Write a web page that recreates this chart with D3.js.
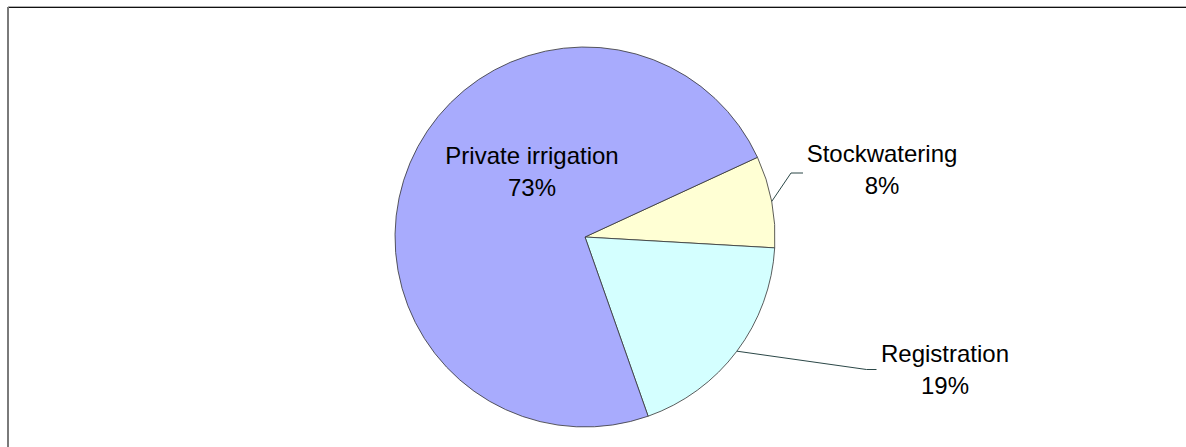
<!DOCTYPE html>
<html>
<head>
<meta charset="utf-8">
<style>
  body { margin: 0; background: #fff; }
  svg { display: block; }
  text { font-family: "Liberation Sans", Arial, sans-serif; font-size: 24px; fill: #000; }
</style>
</head>
<body>
<svg width="1186" height="447"></svg>
<script src="https://d3js.org/d3.v7.min.js"></script>
<script>

    // water use shares (clockwise from the stockwatering edge)
    var categories = ["Stockwatering", "Registration", "Private irrigation"];
    var shares = [7.8, 18.7, 73.5];
    var shareLabels = ["8%", "19%", "73%"];
    var colours = ["#ffffd4", "#d4ffff", "#a8abfd"];

    var svg = d3.select("svg"),
        width = +svg.attr("width"),
        height = +svg.attr("height");

    // frame round the plot area, only top and left edges show
    svg.append("line").attr("x1", 8).attr("y1", 6.5).attr("x2", width).attr("y2", 6.5)
        .attr("stroke", "#b0b0b0").attr("stroke-width", 1);
    svg.append("line").attr("x1", 8).attr("y1", 7.5).attr("x2", width).attr("y2", 7.5)
        .attr("stroke", "#111").attr("stroke-width", 1);
    svg.append("line").attr("x1", 8).attr("y1", 7).attr("x2", 8).attr("y2", height)
        .attr("stroke", "#7a7a7a").attr("stroke-width", 2);

    var cx = 585, cy = 237, radius = 190;
    var g = svg.append("g").attr("transform", "translate(" + cx + "," + cy + ")");

    var rows = categories.map(function (c, i) {
        return {name: c, value: shares[i], label: shareLabels[i], colour: colours[i]};
    });

    var startDeg = 65.2;
    var pie = d3.pie()
        .sort(null)
        .value(function (d) { return d.value; })
        .startAngle(startDeg * Math.PI / 180)
        .endAngle((startDeg + 360) * Math.PI / 180);

    var arc = d3.arc().innerRadius(0).outerRadius(radius);
    var arcs = pie(rows);

    g.selectAll("path.slice")
        .data(arcs)
        .enter().append("path")
        .attr("class", "slice")
        .attr("d", arc)
        .attr("fill", function (d) { return d.data.colour; })
        .attr("stroke", "#333")
        .attr("stroke-width", 0.8);

    // where excel put the labels (text centre, first baseline) and the leader elbow
    var labelLayout = {
        "Stockwatering": {x: 882, y: 162, elbow: [791, 173], tail: 12},
        "Registration": {x: 945, y: 361.5, elbow: [866.5, 369.5], tail: 10},
        "Private irrigation": {x: 532, y: 164}
    };
    var lineGap = 32;

    arcs.forEach(function (d) {
        var lay = labelLayout[d.data.name];
        if (lay.elbow) {
            var mid = (d.startAngle + d.endAngle) / 2;
            var p0 = [cx + radius * Math.sin(mid), cy - radius * Math.cos(mid)];
            var e = lay.elbow;
            svg.append("path")
                .attr("d", d3.line()([p0, e, [e[0] + lay.tail, e[1]]]))
                .attr("fill", "none")
                .attr("stroke", "#2b4747")
                .attr("stroke-width", 1);
        }
        var t = svg.append("text")
            .attr("text-anchor", "middle")
            .attr("x", lay.x)
            .attr("y", lay.y);
        t.append("tspan").attr("x", lay.x).text(d.data.name);
        t.append("tspan").attr("x", lay.x).attr("dy", lineGap).text(d.data.label);
    });

</script>
</body>
</html>
